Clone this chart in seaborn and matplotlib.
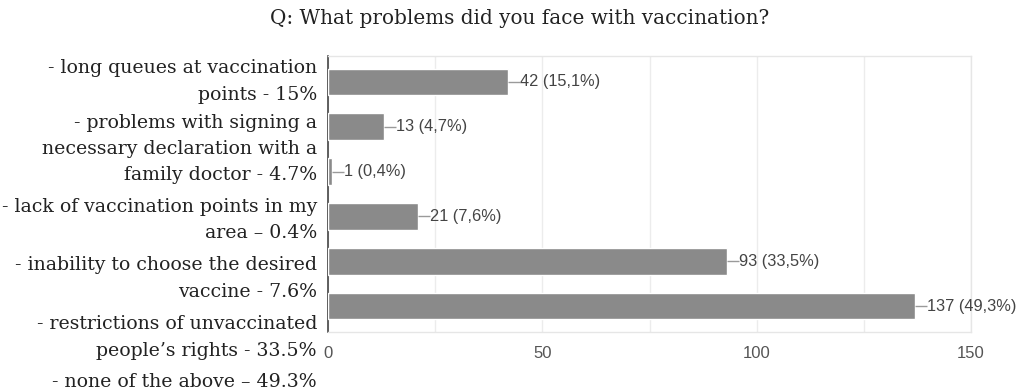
import matplotlib
matplotlib.use("Agg")
import matplotlib.pyplot as plt
import seaborn as sns
import pandas as pd

# Survey answers, counts and shares as printed next to each bar
answers = [
    "- long queues at vaccination\npoints - 15%",
    "- problems with signing a\nnecessary declaration with a\nfamily doctor - 4.7%",
    "- lack of vaccination points in my\narea \u2013 0.4%",
    "- inability to choose the desired\nvaccine - 7.6%",
    "- restrictions of unvaccinated\npeople\u2019s rights - 33.5%",
    "- none of the above \u2013 49.3%",
]
counts = [42, 13, 1, 21, 93, 137]
shares = ["15,1%", "4,7%", "0,4%", "7,6%", "33,5%", "49,3%"]
x_ticks = [0, 50, 100, 150]

df = pd.DataFrame({"answer": answers, "count": counts})

sns.set_theme(style="white")
W, H = 1021, 391
fig = plt.figure(figsize=(W / 100, H / 100), dpi=100)

# axes box in pixel terms: left 328, right 971, top 56, bottom 332
ax = fig.add_axes([328 / W, 1 - 332 / H, (971 - 328) / W, (332 - 56) / H])

sns.barplot(data=df, y="answer", x="count", orient="h", color="#8a8a8a",
            saturation=1, width=0.6, ax=ax, zorder=3)

ax.set_xlim(0, 150)
ax.set_xticks(x_ticks)
ax.set_xticks([25, 75, 125], minor=True)
ax.grid(axis="x", which="both", color="#ececec", linewidth=1, zorder=0)
ax.set_yticks([])
ax.set_xlabel("")
ax.set_ylabel("")
ax.tick_params(axis="x", which="both", length=0, pad=10, labelsize=12,
               labelcolor="#555555")
for lab in ax.get_xticklabels():
    lab.set_fontfamily("Liberation Sans")

for side in ("top", "right", "bottom"):
    ax.spines[side].set_color("#e6e6e6")
    ax.spines[side].set_linewidth(1)
ax.spines["left"].set_color("#444444")
ax.spines["left"].set_linewidth(1.2)

# value callouts with a short leader line from the bar end
for i, (c, s) in enumerate(zip(counts, shares)):
    ax.plot([c, c + 2.8], [i, i], color="#9a9a9a", linewidth=1, zorder=4,
            solid_capstyle="butt")
    ax.text(c + 2.8, i, f"{c} ({s})", va="center", ha="left",
            fontsize=11.8, color="#444444", family="Liberation Sans")

# answer labels as a text block to the left of the axis
label_centers = [81.5, 149, 220, 278.5, 337.5, 382]
for txt, yc in zip(answers, label_centers):
    fig.text(317 / W, 1 - yc / H, txt, ha="right", va="center",
             multialignment="right", fontsize=13.6, color="#222222",
             family="DejaVu Serif", linespacing=1.58)

fig.text(520 / W, 1 - 19 / H, "Q: What problems did you face with vaccination?",
         ha="center", va="center", fontsize=14.4, color="#222222",
         family="DejaVu Serif")

fig.savefig("out.png", dpi=100, facecolor="white")
